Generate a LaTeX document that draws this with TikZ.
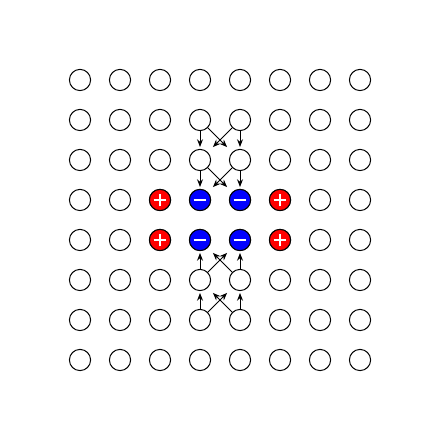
\documentclass[tikz,border=0pt]{standalone}
\usepackage{tikz}
\usetikzlibrary{arrows.meta}
\tikzset{
  site/.style   ={circle,draw=black,fill=white,line width=0.7pt,
                  minimum size=5.3mm,inner sep=0pt},
  possite/.style={site,fill=red,path picture={
                   \draw[white,line width=1.7pt]
                     ([xshift=-1.6mm]path picture bounding box.center) --
                     ([xshift=1.6mm]path picture bounding box.center)
                     ([yshift=-1.6mm]path picture bounding box.center) --
                     ([yshift=1.6mm]path picture bounding box.center);}},
  negsite/.style={site,fill=blue,path picture={
                   \draw[white,line width=1.7pt]
                     ([xshift=-1.6mm]path picture bounding box.center) --
                     ([xshift=1.6mm]path picture bounding box.center);}},
  hop/.style    ={-{Stealth[length=1.9mm,width=1.5mm]},line width=0.6pt,
                  shorten >=0.5mm},
  hopd/.style   ={hop,shorten >=1.8mm},
}
\begin{document}
\begin{tikzpicture}
\useasboundingbox (0,0) rectangle (11,11);

% --- lattice of empty sites ------------------------------------------------
\foreach \i in {0,...,7}
  \foreach \j in {0,...,7}
    \node[site] (site-\i-\j) at (2+\i,9-\j) {};

% --- charged sites in the middle rows --------------------------------------
\foreach \j in {3,4} {
  \node[possite] (site-2-\j) at (4,9-\j) {};
  \node[negsite] (site-3-\j) at (5,9-\j) {};
  \node[negsite] (site-4-\j) at (6,9-\j) {};
  \node[possite] (site-5-\j) at (7,9-\j) {};
}

% --- hops towards the charged rows, from above and below -------------------
\foreach \a/\b in {1/2,2/3,6/5,5/4} {
  \draw[hop]  (site-3-\a) -- (site-3-\b);
  \draw[hop]  (site-4-\a) -- (site-4-\b);
  \draw[hopd] (site-3-\a) -- (site-4-\b);
  \draw[hopd] (site-4-\a) -- (site-3-\b);
}

\end{tikzpicture}
\end{document}
